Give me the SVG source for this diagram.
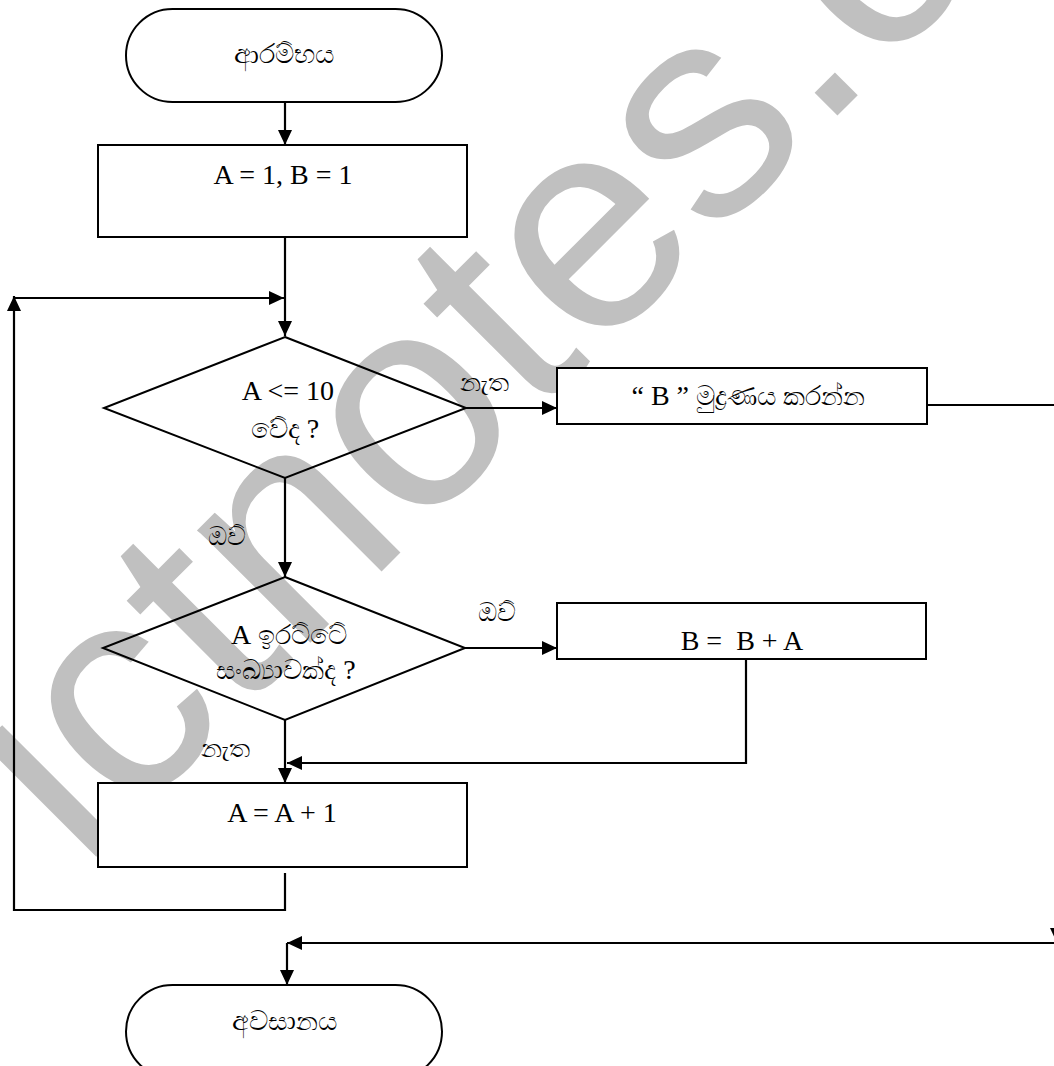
<svg xmlns="http://www.w3.org/2000/svg" width="1054" height="1066" viewBox="0 0 1054 1066">
<defs>
<style>
.node{fill:#fff;stroke:#000;stroke-width:2}
.dia{fill:none;stroke:#000;stroke-width:2}
.conn{fill:none;stroke:#000;stroke-width:2.2}
.t{font-family:"Liberation Serif","Times New Roman",serif;font-size:28px;fill:#000;text-anchor:middle}
.s{font-family:"Liberation Serif","Noto Sans",serif;font-size:27px;fill:#000;text-anchor:middle}
.lbl{font-family:"Liberation Serif","Noto Sans",serif;font-size:26px;fill:#000;text-anchor:middle}
.q{font-family:"Liberation Serif","Times New Roman",serif;font-size:28px}
.wm{font-family:"Liberation Sans",Arial,sans-serif;font-size:302px;fill:#c0c0c0}
</style>
<marker id="arr" viewBox="0 0 15 14" refX="15" refY="7" markerWidth="15" markerHeight="14" markerUnits="userSpaceOnUse" orient="auto">
<path d="M0,0 L15,7 L0,14 z" fill="#000"/>
</marker>
</defs>
<rect width="1054" height="1066" fill="#fff"/>
<text class="wm" transform="translate(82,871) rotate(-45)">ictnotes.c</text>
<g id="connectors">
<line class="conn" x1="285" y1="102" x2="285" y2="145" marker-end="url(#arr)"/>
<line class="conn" x1="285" y1="237" x2="285" y2="336" marker-end="url(#arr)"/>
<polyline class="conn" points="285,873 285,910 14,910 14,296" marker-end="url(#arr)"/>
<line class="conn" x1="14" y1="298" x2="284" y2="298" marker-end="url(#arr)"/>
<line class="conn" x1="466" y1="408" x2="557" y2="408" marker-end="url(#arr)"/>
<polyline class="conn" points="927,405 1057,405 1057,943" marker-end="url(#arr)"/>
<line class="conn" x1="1054" y1="943" x2="287" y2="943" marker-end="url(#arr)"/>
<line class="conn" x1="287" y1="943" x2="287" y2="985" marker-end="url(#arr)"/>
<line class="conn" x1="285" y1="478" x2="285" y2="577" marker-end="url(#arr)"/>
<line class="conn" x1="465" y1="648" x2="557" y2="648" marker-end="url(#arr)"/>
<polyline class="conn" points="746,659 746,763 287,763" marker-end="url(#arr)"/>
<line class="conn" x1="285" y1="720" x2="285" y2="783" marker-end="url(#arr)"/>
<text class="lbl" x="484" y="391">නැත</text>
<text class="lbl" x="227" y="545">ඔව්</text>
<text class="lbl" x="497" y="621">ඔව්</text>
<text class="lbl" x="225" y="757">නැත</text>
</g>
<g id="start">
<rect class="node" x="126" y="9" width="316" height="93" rx="46.5"/>
<text class="s" x="284" y="63">ආරම්භය</text>
</g>
<g id="init">
<rect class="node" x="98" y="145" width="369" height="92"/>
<text class="t" x="283" y="184">A = 1, B = 1</text>
</g>
<g id="cond1">
<polygon class="dia" points="285,337 466,408 285,478 104,408"/>
<text class="t" x="288" y="400">A &lt;= 10</text>
<text class="s" x="285" y="438">වේද <tspan class="q">?</tspan></text>
</g>
<g id="print">
<rect class="node" x="557" y="368" width="370" height="56"/>
<text class="s" x="748" y="405"><tspan class="q">“ B ”</tspan> මුද්‍රණය කරන්න</text>
</g>
<g id="cond2">
<polygon class="dia" points="285,577 465,648 285,720 103,648"/>
<text class="s" x="289" y="644"><tspan class="q">A</tspan> ඉරට්ටේ</text>
<text class="s" x="286" y="679">සංඛ්‍යාවක්ද <tspan class="q">?</tspan></text>
</g>
<g id="add">
<rect class="node" x="557" y="603" width="369" height="56"/>
<text class="t" x="742" y="650" style="white-space:pre">B =  B + A</text>
</g>
<g id="inc">
<rect class="node" x="98" y="783" width="369" height="84"/>
<text class="t" x="282" y="822">A = A + 1</text>
</g>
<g id="end">
<rect class="node" x="126" y="985" width="316" height="93" rx="46.5"/>
<text class="s" x="284" y="1030">අවසානය</text>
</g>
</svg>
